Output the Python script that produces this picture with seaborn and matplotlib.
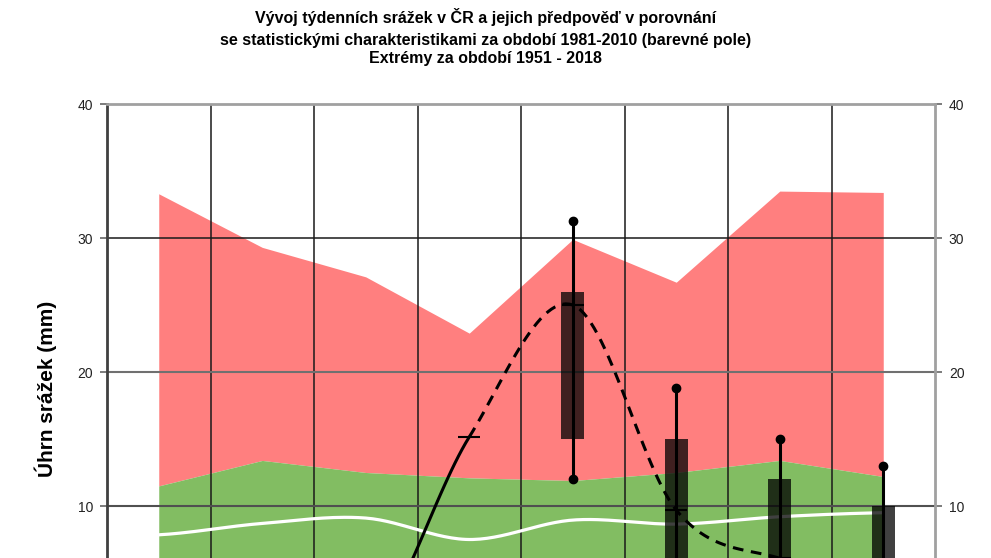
import numpy as np
import matplotlib
matplotlib.use("Agg")
import matplotlib.pyplot as plt
import seaborn as sns

# weeks shown on the category axis (8 categories)
weeks = np.arange(8)

# statistical bands (mm)
band_max = [33.3, 29.3, 27.1, 22.9, 29.9, 26.7, 33.5, 33.4]      # extreme max (red top)
band_upper = [11.5, 13.4, 12.5, 12.1, 11.9, 12.5, 13.4, 12.2]    # upper quantile (green top)
band_median = [7.85, 8.7, 9.1, 7.5, 8.95, 8.65, 9.2, 9.5]        # white line

# observed precipitation (solid, weeks 0..3) and forecast (dashed, weeks 3..7)
observed = [4.0, 3.0, 0.2, 15.15]
forecast = [15.15, 25.0, 9.7, 6.1, 5.0]

# forecast ensemble boxes for weeks 4..7
box_weeks = [4, 5, 6, 7]
box_low = [15.0, 3.0, 2.0, 1.0]
box_high = [26.0, 15.0, 12.0, 10.0]
whisk_low = [12.0, 1.5, 1.0, 0.5]
whisk_high = [31.3, 18.8, 15.0, 13.0]

title_lines = ["Vývoj týdenních srážek v ČR a jejich předpověď v porovnání",
               "se statistickými charakteristikami za období 1981-2010 (barevné pole)",
               "Extrémy za období 1951 - 2018"]


def smooth(x, y, n=30):
    # Catmull-Rom smoothing, like the smoothed lines of the original chart
    x = np.asarray(x, float)
    y = np.asarray(y, float)
    xs, ys = [], []
    for i in range(len(x) - 1):
        y0 = y[i - 1] if i > 0 else y[i]
        y3 = y[i + 2] if i + 2 < len(y) else y[i + 1]
        m1 = (y[i + 1] - y0) / 2
        m2 = (y3 - y[i]) / 2
        t = np.linspace(0, 1, n)
        h00 = 2 * t**3 - 3 * t**2 + 1
        h10 = t**3 - 2 * t**2 + t
        h01 = -2 * t**3 + 3 * t**2
        h11 = t**3 - t**2
        xs.append(x[i] + t * (x[i + 1] - x[i]))
        ys.append(h00 * y[i] + h10 * m1 + h01 * y[i + 1] + h11 * m2)
    return np.concatenate(xs), np.concatenate(ys)


sns.set_style("white")
plt.rcParams['font.family'] = ['Liberation Sans', 'DejaVu Sans']

fig = plt.figure(figsize=(9.91, 5.58), dpi=100)
# plot area extends below the bottom edge (the reference is cropped)
ax = fig.add_axes([107 / 991, (558 - 640) / 558, 828 / 991, 536 / 558])

red = '#ff7f7f'
green = '#82bd62'

ax.fill_between(weeks, band_upper, band_max, color=red, lw=0, zorder=1)
ax.fill_between(weeks, 0, band_upper, color=green, lw=0, zorder=1)

# grid
for xv in np.arange(0.5, 7.5, 1):
    ax.axvline(xv, color='#1a1a1a', lw=1.1, zorder=2)
ax.axhline(30, color='#1a1a1a', lw=1.1, zorder=2)
ax.axhline(20, color='#707070', lw=1.5, zorder=2)
ax.axhline(10, color='#505050', lw=1.5, zorder=2)

mx, my = smooth(weeks, band_median)
sns.lineplot(x=mx, y=my, sort=False, estimator=None, color='white', lw=2.3, ax=ax, zorder=3)

# boxes and whiskers
bh = np.array(box_high) - np.array(box_low)
ax.bar(box_weeks, bh, bottom=box_low, width=0.22, color='black', alpha=0.75, lw=0, zorder=4)
ax.vlines(box_weeks, whisk_low, whisk_high, color='black', lw=2.2, zorder=5)
ax.plot(box_weeks, whisk_high, 'o', color='black', ms=6, zorder=5)
ax.plot(box_weeks, whisk_low, 'o', color='black', ms=6, zorder=5)

# observed + forecast smoothed as one curve, split at the last observed week
series = observed + forecast[1:]
sx, sy = smooth(weeks, series)
n_obs = len(observed)
cut = sx <= weeks[n_obs - 1]
sns.lineplot(x=sx[cut], y=sy[cut], sort=False, estimator=None, color='black', lw=2.2,
             ax=ax, zorder=6)
ax.plot(sx[~cut | (sx == weeks[n_obs - 1])], sy[~cut | (sx == weeks[n_obs - 1])],
        color='black', lw=2.2, dashes=(3.5, 2.5), zorder=6)
ax.plot(weeks[n_obs - 1:], forecast, ls='none', marker='_', ms=16, mew=1.5,
        color='black', zorder=6)

ax.set_xlim(-0.5, 7.5)
ax.set_ylim(0, 40)
ax.set_xticks([])
ax.set_yticks([10, 20, 30, 40])
ax.tick_params(axis='y', left=True, right=True, labelleft=True, labelright=True,
               length=5, width=1.2, pad=5, labelsize=10, labelcolor='#222222',
               color='#666666')

ax.spines['left'].set_color('#404040')
ax.spines['left'].set_linewidth(2)
for side in ['right', 'top']:
    ax.spines[side].set_color('#a0a0a0')
    ax.spines[side].set_linewidth(2)
ax.spines['bottom'].set_visible(False)

for line, base in zip(title_lines, [22.5, 44.5, 62.5]):
    fig.text(0.49, 1 - base / 558, line, ha='center', va='baseline', fontsize=11.5,
             fontweight='bold', color='black')
fig.text(46 / 991, 1 - 389 / 558, 'Úhrn srážek (mm)', rotation=90, ha='center',
         va='center', fontsize=15, fontweight='bold', color='black')

fig.savefig("out.png", dpi=100)
